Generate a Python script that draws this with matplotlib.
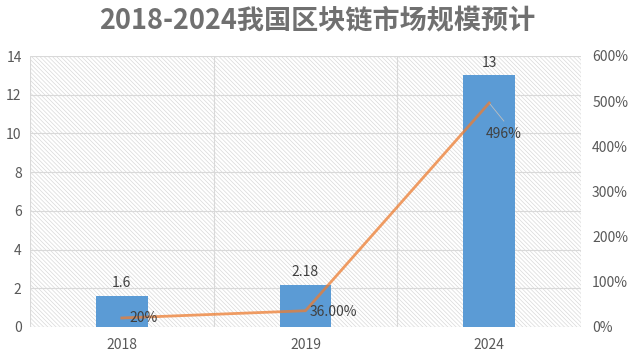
import matplotlib
matplotlib.use("Agg")
import matplotlib.pyplot as plt
import numpy as np
from matplotlib.patches import Rectangle

plt.rcParams['font.family'] = ['Noto Sans CJK SC', 'DejaVu Sans']
plt.rcParams['hatch.color'] = '#e0e0e0'
plt.rcParams['hatch.linewidth'] = 0.5

title = "2018-2024我国区块链市场规模预计"
categories = ["2018", "2019", "2024"]
market = [1.6, 2.18, 13]
market_labels = ["1.6", "2.18", "13"]
growth = [20, 36, 496]
growth_labels = ["20%", "36.00%", "496%"]

fig = plt.figure(figsize=(6.34, 3.55), dpi=100)
ax = fig.add_axes([30/634, 1-327/355, 551/634, 271/355])
ax2 = ax.twinx()

x = np.arange(len(categories))
ax.set_xlim(-0.5, len(categories)-0.5)
ax.set_ylim(0, 14)
ax2.set_ylim(0, 600)

# hatched background
bg = Rectangle((0, 0), 1, 1, transform=ax.transAxes, facecolor='white',
               edgecolor='#d9d9d9', hatch='\\' * 8, lw=0.8, zorder=0)
ax.add_patch(bg)
for v in range(2, 14, 2):
    ax.axhline(v, color='#d9d9d9', lw=0.8, zorder=0.5)
for b in [0.5, 1.5]:
    ax.axvline(b, color='#d9d9d9', lw=0.8, zorder=0.5)

ax.bar(x, market, width=0.28, color='#5B9BD5', zorder=2)
for xi, v, lab in zip(x, market, market_labels):
    ax.text(xi, v + 0.3, lab, ha='center', va='bottom', fontsize=10, color='#404040')

ax2.plot(x, growth, color='#ED7D31', lw=2, alpha=0.75, zorder=3)
ax2.text(x[0] + 0.04, growth[0], growth_labels[0], ha='left', va='center', fontsize=10, color='#404040')
ax2.text(x[1] + 0.02, growth[1] - 3, growth_labels[1], ha='left', va='center', fontsize=10, color='#404040')
ax2.plot([x[2], x[2] + 0.08], [growth[2], growth[2] - 40], color='#bfbfbf', lw=0.6)
ax2.text(x[2] + 0.08, growth[2] - 68, growth_labels[2], ha='center', va='center', fontsize=10, color='#404040')

ax.set_xticks(x)
ax.set_xticklabels(categories)
ax.set_yticks(range(0, 15, 2))
ax2.set_yticks(range(0, 601, 100))
ax2.set_yticklabels([f"{v}%" for v in range(0, 601, 100)])
for a in (ax, ax2):
    a.tick_params(length=0, labelsize=10, labelcolor='#595959')
    for s in a.spines.values():
        s.set_visible(False)
ax.tick_params(axis='x', pad=8)
ax.tick_params(axis='y', pad=6)
ax2.tick_params(axis='y', pad=8)
ax.set_zorder(1)
ax2.set_zorder(2)
ax.patch.set_visible(False)
ax2.patch.set_visible(False)

fig.text(0.5, 1-21/355, title, ha='center', va='center', fontsize=19.5,
         fontweight='bold', color='#707070')

fig.savefig("out.png", dpi=100)
